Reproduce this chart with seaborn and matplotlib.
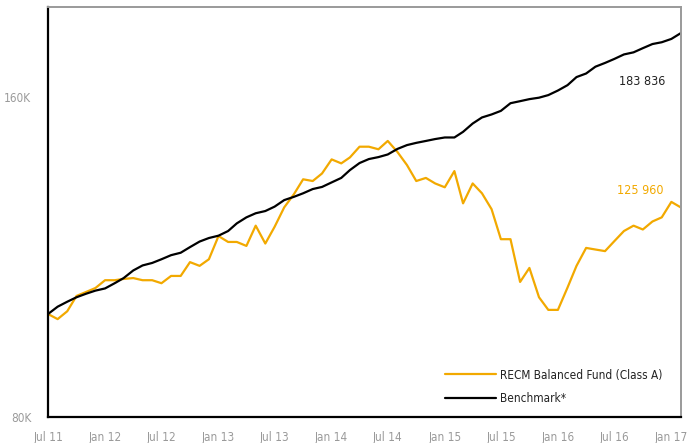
import pandas as pd
import numpy as np
import matplotlib
matplotlib.use('Agg')
import matplotlib.pyplot as plt
import matplotlib.ticker as mticker
import seaborn as sns

# ── Data (growth of 100 000, monthly) ─────────────────────────────────────────
dates = pd.date_range('2011-07-01', periods=68, freq='MS')

fund = [100.0, 98.9, 100.6, 104.0, 104.9, 105.8, 107.6, 107.6, 107.9, 108.1,
        107.6, 107.6, 106.9, 108.6, 108.6, 111.9, 111.0, 112.6, 118.4, 116.9,
        116.9, 115.9, 121.1, 116.5, 120.8, 126.0, 129.6, 133.9, 133.4, 135.6,
        139.8, 138.6, 140.4, 143.7, 143.7, 142.9, 145.5, 142.1, 138.1, 133.4,
        134.3, 132.7, 131.6, 136.3, 127.1, 132.7, 129.9, 125.5, 117.6, 117.6,
        107.2, 110.5, 103.7, 100.9, 100.9, 105.9, 111.0, 115.4, 115.0, 114.6,
        117.1, 119.7, 121.1, 120.1, 122.2, 123.3, 127.5, 125.96]

benchmark = [100.0, 101.6, 102.7, 103.7, 104.5, 105.2, 105.7, 106.9, 108.1, 109.9,
             111.1, 111.7, 112.6, 113.6, 114.2, 115.6, 117.0, 117.9, 118.5, 119.7,
             121.7, 123.3, 124.4, 125.0, 126.2, 128.0, 128.9, 129.9, 131.1, 131.7,
             133.0, 134.3, 136.6, 138.7, 139.9, 140.5, 141.3, 143.0, 144.2, 144.9,
             145.5, 146.1, 146.6, 146.6, 148.4, 151.1, 153.1, 154.1, 155.3, 157.9,
             158.6, 159.3, 159.8, 160.7, 162.3, 164.2, 167.1, 168.4, 170.9, 172.3,
             173.8, 175.5, 176.3, 177.9, 179.5, 180.2, 181.5, 183.836]

fund_label = 'RECM Balanced Fund (Class A)'
bench_label = 'Benchmark*'
y_ticks = [80000, 160000]
y_ticklabels = ['80K', '160K']

ORANGE = '#F2A900'
GREY = '#9A9A9A'

df = pd.DataFrame({'date': dates,
                   fund_label: np.array(fund) * 1000,
                   bench_label: np.array(benchmark) * 1000})
long = df.melt(id_vars='date', var_name='series', value_name='value')

# ── Plot ──────────────────────────────────────────────────────────────────────
sns.set_style('white')
plt.rcParams['font.family'] = ['DejaVu Sans']
plt.rcParams['font.stretch'] = 'condensed'

fig = plt.figure(figsize=(6.97, 4.43), dpi=100)
ax = fig.add_axes([0.0689, 0.0587, 0.9081, 0.9255])

sns.lineplot(data=long, x='date', y='value', hue='series',
             palette={fund_label: ORANGE, bench_label: 'black'},
             linewidth=1.6, ax=ax)

ax.set_yscale('log')
ax.set_ylim(80000, 194500)
ax.set_xlim(dates[0], dates[-1])
ax.yaxis.set_major_locator(mticker.FixedLocator(y_ticks))
ax.yaxis.set_major_formatter(mticker.FixedFormatter(y_ticklabels))
ax.yaxis.set_minor_locator(mticker.NullLocator())

xt = dates[::6]
ax.set_xticks(xt)
ax.set_xticklabels([d.strftime('%b %y') for d in xt])
ax.tick_params(axis='both', length=0, colors=GREY, labelsize=8.5)
ax.tick_params(axis='x', pad=10)
ax.tick_params(axis='y', pad=12)
ax.set_xlabel('')
ax.set_ylabel('')

for s in ['left', 'bottom']:
    ax.spines[s].set_color('black')
    ax.spines[s].set_linewidth(1.6)
for s in ['top', 'right']:
    ax.spines[s].set_color(GREY)
    ax.spines[s].set_linewidth(1.4)

# end-value labels
ax.annotate(f'{benchmark[-1] * 1000:,.0f}'.replace(',', ' '),
            xy=(dates[-1], benchmark[-1] * 1000), xytext=(-28, -35),
            textcoords='offset points', ha='center', va='center',
            color='#222222', fontsize=9)
ax.annotate(f'{fund[-1] * 1000:,.0f}'.replace(',', ' '),
            xy=(dates[-1], fund[-1] * 1000), xytext=(-29, 12),
            textcoords='offset points', ha='center', va='center',
            color=ORANGE, fontsize=9)

ax.legend(loc='upper left', bbox_to_anchor=(0.627, 0.118), frameon=False,
          fontsize=8.5, handlelength=4.3, handletextpad=0.4,
          labelspacing=0.85, borderpad=0, borderaxespad=0,
          labelcolor='#222222')

fig.savefig('out.png', dpi=100)
plt.close(fig)
